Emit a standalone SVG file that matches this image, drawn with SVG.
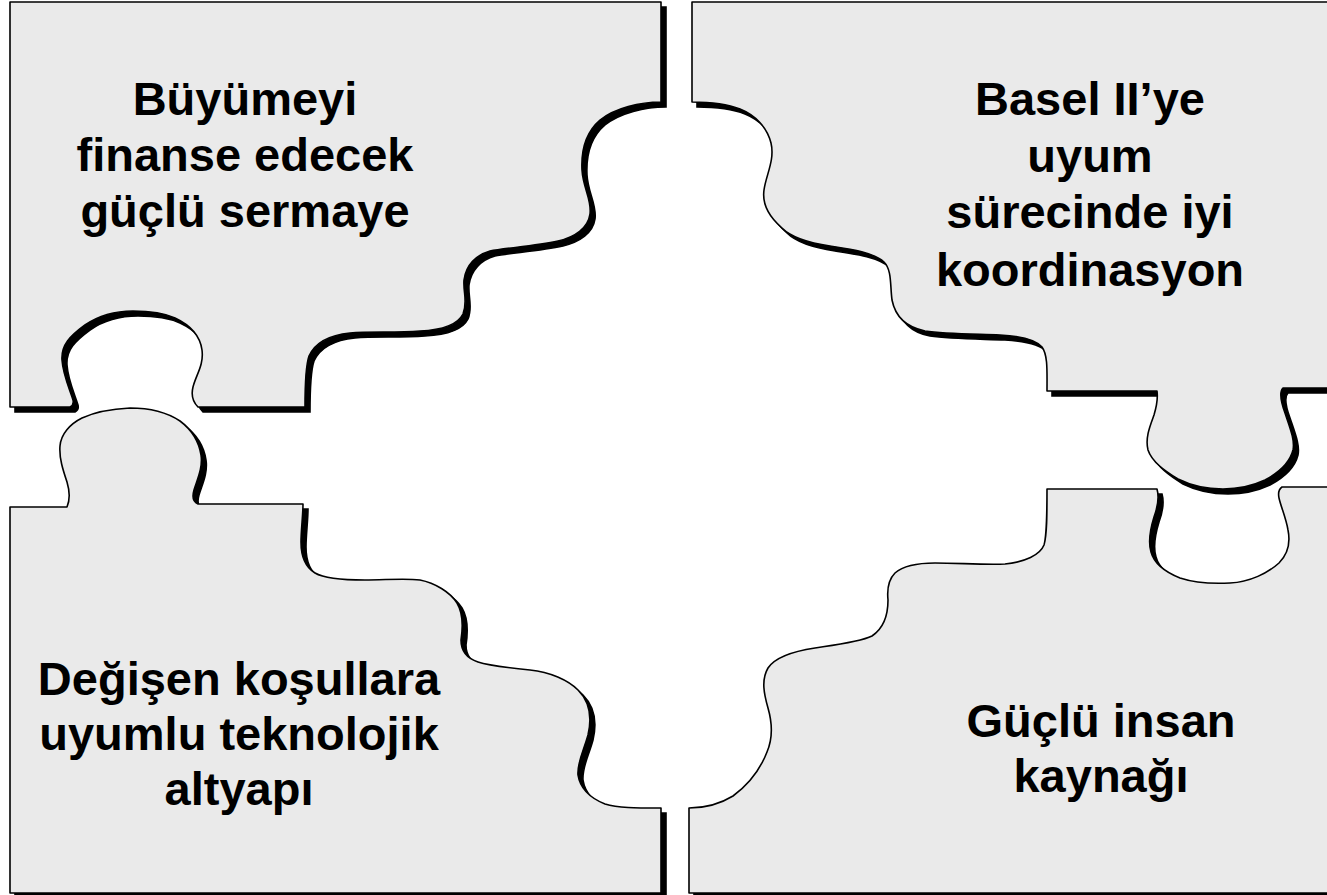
<svg xmlns="http://www.w3.org/2000/svg" xmlns:xlink="http://www.w3.org/1999/xlink" width="1327" height="895" viewBox="0 0 1327 895">
<style>
.piece{fill:#EAEAEA;stroke:#000;stroke-width:1.6;stroke-linejoin:round}
.shadow{fill:#000;stroke:#000;stroke-width:1.6}
.label{font-family:"Liberation Sans",Arial,sans-serif;font-weight:bold;font-size:47px;fill:#000;text-anchor:middle}
</style>
<defs>
<path id="p-tl" d="M10,2 H661 V102 C640,102 615,108 600,120 C586,132 581,150 582,170 C583,188 592,200 590,214 C588,228 575,237 558,241 C535,246 505,248 490,251 C476,255 466,265 464,280 C463,292 468,302 463,314 C457,326 440,330 420,331 C395,333 370,331 350,333 C330,335 315,343 309,356 C305,368 305,390 305,407 H198 C193,402 191,395 193,387 C196,375 204,365 202,350 C200,335 190,325 175,318 C162,312 148,311 133,311 C115,311 98,316 85,325 C70,336 61,345 62,360 C63,375 70,390 73,400 C74,404 72,406 70,407 H10 Z"/>
<path id="p-tr" d="M692,2 H1345 V388 H1283 C1279,392 1281,402 1285,413 C1290,428 1295,440 1293,450 C1290,462 1280,472 1265,480 C1250,487 1235,489 1223,489 C1205,489 1190,485 1178,479 C1165,471 1152,462 1148,450 C1145,438 1150,426 1154,415 C1157,405 1158,398 1157,391 H1047 C1047,372 1048,355 1042,347 C1035,339 1020,336 1000,335 C975,334 945,334 925,331 C905,327 895,315 892,300 C890,285 892,270 884,262 C873,252 850,249 830,246 C810,243 792,238 782,228 C768,216 762,204 764,190 C766,175 775,160 771,143 C767,127 755,115 740,109 C725,103 708,102 692,102 Z"/>
<path id="p-bl" d="M10,507 H67 C70,500 70,492 67,482 C63,470 59,458 60,446 C61,434 70,424 82,418 C95,412 110,409 130,408 C150,408 168,413 180,421 C192,430 199,442 201,455 C203,468 197,480 194,490 C192,497 193,502 198,504 H303 C303,515 301,530 301,542 C301,555 305,567 315,573 C325,579 345,580 365,580 C385,580 405,578 420,580 C435,583 450,592 457,603 C463,613 463,627 461,640 C461,650 466,658 478,662 C490,666 510,668 530,670 C550,672 568,680 578,690 C590,702 592,718 588,735 C584,750 577,762 578,775 C580,788 590,798 605,804 C618,808 635,808 661,808 V893 H10 Z"/>
<path id="p-br" d="M1047,489 H1157 C1159,496 1158,506 1154,517 C1150,530 1148,542 1151,552 C1154,563 1165,572 1180,578 C1195,583 1210,584 1230,583 C1250,582 1268,573 1279,563 C1290,552 1290,540 1288,530 C1286,518 1281,507 1279,498 C1278,493 1279,489 1282,487 H1345 V893 H689 V808 C705,808 720,804 733,796 C748,785 760,770 767,752 C773,738 772,722 768,708 C764,694 761,680 768,668 C776,656 795,651 815,648 C835,645 860,642 872,636 C884,628 888,615 888,600 C887,590 888,580 895,573 C903,566 918,563 935,563 C958,563 985,565 1005,564 C1025,562 1040,555 1044,545 C1047,535 1047,515 1047,489 Z"/>
</defs>
<rect width="1327" height="895" fill="#FFFFFF"/>
<g id="piece-top-left">
<use xlink:href="#p-tl" href="#p-tl" class="shadow" transform="translate(5,5)"/>
<use xlink:href="#p-tl" href="#p-tl" class="piece"/>
<text class="label" x="245" y="115">Büyümeyi</text>
<text class="label" x="245" y="171">finanse edecek</text>
<text class="label" x="245" y="227">güçlü sermaye</text>
</g>
<g id="piece-top-right">
<use xlink:href="#p-tr" href="#p-tr" class="shadow" transform="translate(5,5)"/>
<use xlink:href="#p-tr" href="#p-tr" class="piece"/>
<text class="label" x="1090" y="115">Basel II’ye</text>
<text class="label" x="1090" y="172">uyum</text>
<text class="label" x="1090" y="228">sürecinde iyi</text>
<text class="label" x="1090" y="286">koordinasyon</text>
</g>
<g id="piece-bottom-left">
<use xlink:href="#p-bl" href="#p-bl" class="shadow" transform="translate(5,5)"/>
<use xlink:href="#p-bl" href="#p-bl" class="piece"/>
<text class="label" x="239" y="695">Değişen koşullara</text>
<text class="label" x="239" y="750">uyumlu teknolojik</text>
<text class="label" x="239" y="805">altyapı</text>
</g>
<g id="piece-bottom-right">
<use xlink:href="#p-br" href="#p-br" class="shadow" transform="translate(5,5)"/>
<use xlink:href="#p-br" href="#p-br" class="piece"/>
<text class="label" x="1101" y="737">Güçlü insan</text>
<text class="label" x="1101" y="792">kaynağı</text>
</g>
</svg>
